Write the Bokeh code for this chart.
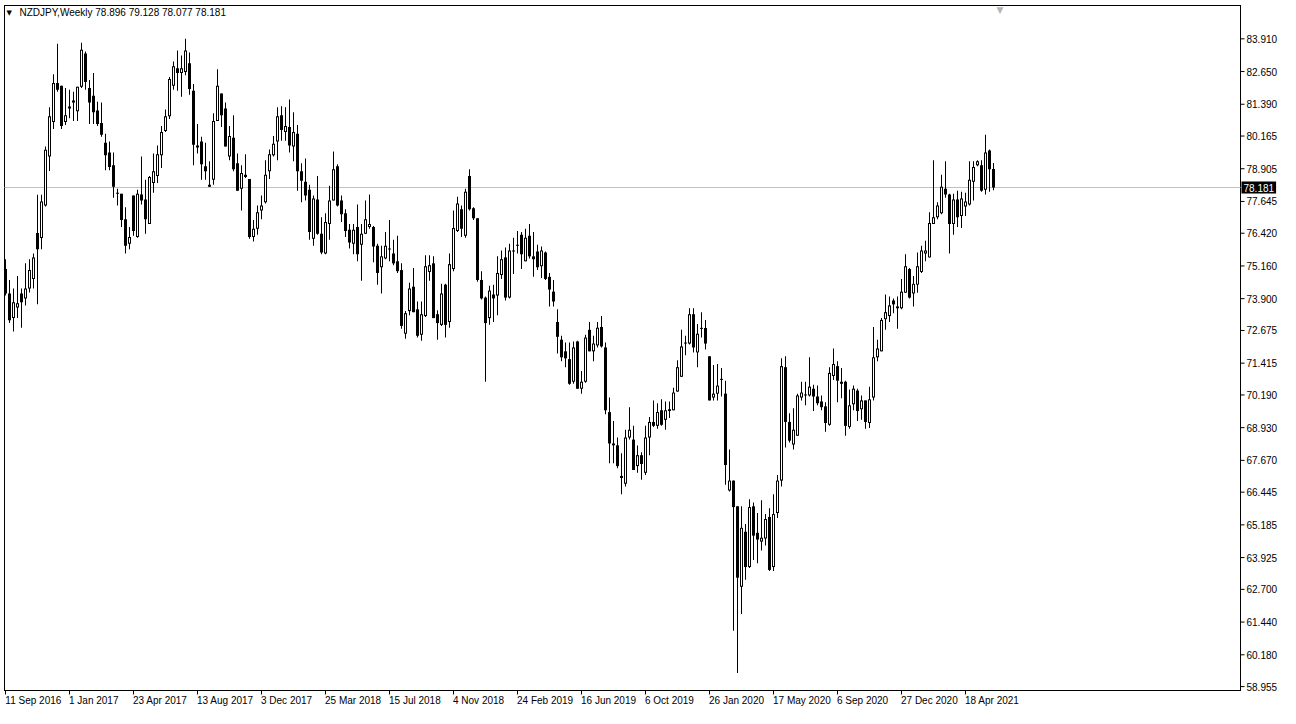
from bokeh.plotting import figure
from bokeh.models import (Range1d, FixedTicker, Label, PrintfTickFormatter)
from bokeh.embed import file_html
from bokeh.resources import INLINE

symbol = "NZDJPY"
timeframe = "Weekly"
last_ohlc = [78.896, 79.128, 78.077, 78.181]

opens = [
75.04,74.10,73.15,73.56,74.10,73.91,74.29,74.66,76.43,76.24,
77.49,79.38,80.71,82.21,82.10,80.71,81.23,81.46,81.12,82.06,
83.34,82.02,81.72,81.15,80.67,79.91,79.53,79.04,77.98,77.94,
76.96,76.02,77.87,76.28,77.91,77.72,76.78,78.36,78.63,79.42,
80.36,80.93,82.10,82.78,82.59,82.63,82.97,81.91,79.72,79.95,
79.00,78.21,78.48,80.74,81.80,81.23,79.38,80.10,79.12,78.13,
78.67,78.51,76.28,76.59,77.30,77.61,78.81,79.42,79.95,80.97,
80.32,80.51,79.76,80.25,78.81,78.40,78.10,76.21,77.72,76.40,
75.64,76.78,77.68,79.00,77.68,77.19,76.55,76.02,76.66,75.98,
76.40,76.66,76.66,75.94,75.11,75.45,75.83,75.64,75.34,75.00,
72.55,73.42,74.36,73.49,72.51,73.23,74.93,75.26,73.30,72.89,
74.44,73.00,75.04,76.51,77.34,76.32,78.63,77.38,77.00,74.62,
73.94,73.15,74.06,74.02,74.81,75.49,73.94,75.72,75.98,76.36,
75.34,76.32,75.53,75.72,75.15,75.68,74.74,74.17,73.00,72.32,
71.87,71.57,70.70,72.25,70.43,70.70,72.70,71.87,72.10,72.81,
72.02,69.53,68.25,68.25,67.07,66.77,68.55,68.47,67.45,67.87,
67.19,68.55,69.15,69.00,69.60,69.23,69.64,69.60,70.32,70.89,
72.21,72.17,73.30,71.83,72.77,72.77,71.68,70.09,70.24,70.81,
70.24,66.51,66.89,65.90,62.80,64.92,63.56,65.90,64.88,64.54,
64.66,65.49,63.56,65.64,66.89,71.26,69.15,68.28,68.62,70.09,
70.21,70.17,70.43,70.13,69.94,69.75,69.04,70.92,71.30,70.70,
70.70,68.96,69.83,70.36,69.64,69.98,69.11,70.09,71.64,71.87,
73.11,73.23,73.83,73.60,73.53,74.13,75.04,74.10,74.44,74.93,
75.64,75.49,76.78,77.04,77.19,78.13,77.91,76.78,77.72,77.08,
77.45,77.53,78.40,79.04,79.04,78.10,79.61,78.896]

highs = [
75.42,74.62,74.29,74.77,74.29,75.26,75.42,75.64,77.90,77.90,
79.76,81.27,82.55,83.72,82.10,82.02,81.95,81.87,82.06,83.76,
83.42,82.32,82.59,81.49,81.46,80.25,79.95,79.53,78.13,77.94,
77.42,76.66,77.87,78.10,79.38,78.48,78.63,79.49,79.80,80.55,
81.19,82.44,83.04,83.46,83.27,83.91,83.38,82.17,80.63,80.14,
79.91,79.19,81.04,82.74,81.80,81.46,80.55,80.97,79.49,79.04,
79.46,78.51,76.93,77.49,77.87,79.23,79.65,80.17,81.27,81.31,
81.27,81.57,81.08,80.59,79.12,79.30,78.29,77.87,78.63,77.04,
77.19,78.25,79.57,79.08,77.87,77.34,76.78,76.78,77.53,76.78,
77.68,77.91,76.70,76.02,75.94,76.47,76.93,76.17,76.32,75.26,
73.42,74.51,75.08,73.79,73.79,75.57,75.57,75.53,73.45,74.47,
74.47,75.64,77.30,77.83,77.49,78.13,78.89,77.42,77.00,74.96,
73.98,74.40,74.44,75.53,75.76,75.87,76.02,76.25,76.51,76.47,
76.59,76.78,76.47,75.98,75.91,75.72,74.89,74.62,73.49,72.47,
72.21,72.21,72.25,72.28,71.11,72.51,73.00,72.47,73.00,73.23,
72.21,70.09,69.19,68.55,67.94,68.85,69.72,69.00,68.24,67.98,
69.00,69.34,69.98,69.87,70.02,69.94,69.94,70.47,71.53,72.70,
72.47,73.53,73.53,72.92,73.38,73.08,71.68,71.34,71.38,71.23,
70.74,68.09,66.89,65.90,65.90,65.22,66.17,66.05,65.64,66.13,
65.60,65.83,66.36,67.11,71.60,71.68,69.49,69.68,70.24,70.70,
70.70,71.64,70.58,70.55,70.17,69.91,71.26,71.98,71.49,71.23,
70.74,70.40,70.55,70.43,70.17,69.98,70.51,72.81,72.32,73.15,
74.06,73.98,73.91,73.98,74.66,75.61,75.08,74.77,75.68,75.94,
76.13,77.23,79.23,77.61,78.67,79.19,77.94,77.94,78.06,78.02,
77.98,79.19,79.19,79.23,79.23,80.21,79.65,79.128]

lows = [
74.02,72.96,72.63,73.15,72.78,73.64,74.14,74.29,73.68,75.80,
77.45,78.82,80.44,81.87,80.44,80.59,80.85,80.74,80.74,82.02,
81.95,80.63,80.63,80.55,80.14,78.85,78.85,77.79,77.49,76.66,
75.64,75.80,76.32,76.25,77.53,76.40,76.78,77.98,78.36,78.93,
80.32,80.82,81.95,81.91,81.68,82.51,81.76,79.04,79.49,78.48,
78.48,78.21,78.29,80.74,80.51,79.76,79.23,78.81,78.06,77.30,
78.55,76.21,76.10,76.36,76.96,77.57,78.51,79.38,79.23,79.98,
79.98,79.53,79.19,78.06,77.61,77.68,76.17,75.94,76.36,75.61,
75.61,76.17,77.68,77.45,76.85,76.28,75.83,75.61,75.34,74.59,
76.40,76.59,75.30,74.44,74.10,75.42,75.34,75.19,74.89,72.74,
72.36,73.26,73.38,72.40,72.28,73.19,74.59,73.15,72.32,72.85,
72.40,72.78,74.96,76.47,76.28,76.25,77.30,76.93,74.55,73.87,
70.70,72.89,73.00,73.26,74.66,73.83,73.91,74.85,75.64,75.04,
75.34,75.45,74.74,75.00,74.70,74.62,73.60,73.60,71.79,71.49,
71.26,70.58,70.62,70.43,70.24,70.66,71.87,71.49,72.02,72.02,
69.45,67.56,67.56,67.37,66.36,66.66,68.47,67.30,67.19,66.92,
67.11,67.87,68.96,68.89,69.00,68.85,69.30,69.60,70.32,70.89,
71.72,72.13,71.83,71.26,72.40,71.94,69.98,69.98,69.98,70.13,
66.73,66.47,61.11,59.48,61.75,63.07,63.52,63.83,63.71,64.20,
64.39,63.41,63.41,65.45,66.66,68.17,68.36,68.09,68.62,69.98,
69.79,70.13,69.57,69.79,69.60,68.77,69.00,70.77,69.91,70.06,
68.62,68.89,69.60,69.19,69.23,68.89,68.92,69.98,71.49,71.87,
72.70,73.00,73.34,72.74,73.49,74.13,73.91,73.60,74.13,74.89,
75.34,75.49,76.78,76.96,77.15,77.79,75.64,76.36,76.66,76.62,
77.08,77.49,77.68,79.00,78.02,77.91,78.02,78.077]

closes = [
74.10,73.07,73.76,73.72,73.76,74.29,75.00,75.49,75.80,77.64,
79.64,80.93,82.21,81.95,80.55,80.97,81.30,81.53,82.06,83.49,
82.25,81.46,81.08,80.63,80.21,79.42,78.97,78.21,77.94,76.93,
75.94,76.28,76.51,77.94,77.68,76.96,78.59,78.81,79.46,80.32,
80.93,82.36,82.85,82.59,82.78,83.46,81.98,79.83,79.80,79.08,
78.81,78.29,80.74,82.10,80.97,79.76,80.17,78.89,78.06,78.74,
78.59,76.28,76.59,77.23,77.49,78.67,79.46,79.87,80.93,80.40,
80.55,79.80,80.32,78.81,78.44,77.87,76.47,77.76,76.40,75.68,
76.85,77.68,78.89,77.49,77.15,76.51,76.06,76.55,75.61,76.40,
76.96,76.78,75.91,74.89,75.53,75.94,75.79,75.26,74.96,72.85,
73.34,74.29,73.38,72.47,73.30,75.15,75.19,73.15,72.96,74.10,
72.89,75.23,76.62,77.57,76.59,78.02,77.34,77.00,74.62,73.91,
72.96,74.21,73.91,74.89,75.42,73.94,75.76,75.76,75.94,75.61,
76.25,75.53,75.42,75.11,75.76,74.66,74.25,73.79,72.43,71.64,
71.60,70.62,72.02,70.43,70.70,72.40,71.87,72.17,72.78,72.06,
69.60,68.32,68.32,67.45,66.99,68.55,68.85,67.30,67.87,67.53,
68.55,69.15,69.00,69.53,69.04,69.60,69.57,70.28,71.26,72.06,
72.17,73.30,72.02,72.55,72.74,72.17,69.98,70.24,70.55,70.77,
67.49,66.89,65.87,63.15,65.07,63.56,65.87,64.77,64.62,64.69,
65.41,63.45,65.60,66.89,71.30,69.15,68.43,68.85,70.17,70.28,
70.17,70.51,70.13,69.87,69.72,69.11,71.04,71.38,70.74,70.62,
69.00,69.79,70.43,69.57,69.98,69.15,70.02,71.64,71.98,73.08,
73.38,73.64,73.68,73.53,74.17,75.15,73.94,74.47,75.15,75.76,
75.76,76.81,77.04,77.49,78.21,77.91,76.78,77.72,77.04,77.76,
77.64,78.48,78.97,79.19,78.06,79.53,78.89,78.181]

date_labels = ["11 Sep 2016", "1 Jan 2017", "23 Apr 2017", "13 Aug 2017", "3 Dec 2017",
               "25 Mar 2018", "15 Jul 2018", "4 Nov 2018", "24 Feb 2019", "16 Jun 2019",
               "6 Oct 2019", "26 Jan 2020", "17 May 2020", "6 Sep 2020", "27 Dec 2020",
               "18 Apr 2021"]
label_every = 16

price_levels = [83.910, 82.650, 81.390, 80.165, 78.905, 77.645, 76.420, 75.160, 73.900,
                72.675, 71.415, 70.190, 68.930, 67.670, 66.445, 65.185, 63.925, 62.700,
                61.440, 60.180, 58.955]

# ---------------- layout / style ----------------
FONT = "Liberation Sans"
FS = 10                          # px
W, H = 1280, 708
BL, BT = 3, 4                    # canvas borders
FW, FH = W - BL, H - BT          # frame: chart + price strip + time strip
PXB = 4.0                        # pixels per bar
dx = 1.0 / PXB
X0 = -0.5
CHART_R = 1237                   # chart right border, frame px
CHART_B = 686                    # chart bottom border, frame px
P_TOP, P_BOT = 85.194, 58.804    # prices at the chart's top / bottom border
ppp = (CHART_B - 1) / (P_TOP - P_BOT)
dy = 1.0 / ppp
Y1 = P_TOP + 1 * dy
Y0 = Y1 - FH * dy

x_left = X0 + 1 * dx
x_border = X0 + CHART_R * dx
y_top = Y1 - 1 * dy
y_bot = Y1 - CHART_B * dy

n = len(opens)
idx = list(range(n))
bull = [c >= o for o, c in zip(opens, closes)]

btop, bbot = [], []
for o, c in zip(opens, closes):
    t, b = max(o, c), min(o, c)
    if t - b < dy:
        m = (t + b) / 2
        t, b = m + dy / 2, m - dy / 2
    btop.append(t)
    bbot.append(b)

inner_x, inner_t, inner_b = [], [], []
for i in idx:
    if bull[i] and btop[i] - bbot[i] > 2.5 * dy:
        inner_x.append(i)
        inner_t.append(btop[i] - dy)
        inner_b.append(bbot[i] + dy)

p = figure(width=W, height=H, output_backend="svg", toolbar_location=None,
           x_range=Range1d(X0, X0 + FW * dx), y_range=Range1d(Y0, Y1),
           y_axis_location="right", x_axis_location="below",
           min_border_left=BL, min_border_top=BT, min_border_right=0, min_border_bottom=0)
p.background_fill_color = "white"
p.border_fill_color = "white"
p.outline_line_color = None
p.grid.visible = False

# chart box (four 1-px strips, pixel aligned)
hx, hy = 0.5 * dx, 0.5 * dy
p.quad(left=[x_left - hx, x_border - hx, x_left - hx, x_left - hx],
       right=[x_left + hx, x_border + hx, x_border + hx, x_border + hx],
       top=[y_top + hy, y_top + hy, y_top + hy, y_bot + hy],
       bottom=[y_bot - hy, y_bot - hy, y_top - hy, y_bot - hy],
       fill_color="black", line_color=None)

# current price line (chart area only)
p.quad(left=[x_left], right=[x_border], top=[last_ohlc[3] + hy], bottom=[last_ohlc[3] - hy],
       fill_color="#c0c0c0", line_color=None)

# candles: wick, body, hollow inside of the up candles
p.vbar(x=idx, width=0.25, top=highs, bottom=lows, fill_color="black", line_color=None)
p.vbar(x=idx, width=0.75, top=btop, bottom=bbot, fill_color="black", line_color=None)
p.vbar(x=inner_x, width=0.25, top=inner_t, bottom=inner_b, fill_color="white", line_color=None)

# price scale: tick marks + labels at the chart border
p.segment(x0=[x_border] * len(price_levels), y0=price_levels,
          x1=[x_border + 4 * dx] * len(price_levels), y1=price_levels,
          line_color="black", line_width=1)
ya = p.yaxis[0]
ya.fixed_location = x_border
ya.ticker = FixedTicker(ticks=price_levels)
ya.formatter = PrintfTickFormatter(format="%.3f")
ya.major_tick_in = 0
ya.major_tick_out = 0
ya.major_tick_line_color = None
ya.minor_tick_line_color = None
ya.axis_line_color = None
ya.major_label_standoff = 6
ya.major_label_text_font = FONT
ya.major_label_text_font_size = f"{FS}px"
ya.major_label_text_color = "black"

# time scale: tick marks at the labelled bars, dates written from the tick rightwards
tick_bars = [i * label_every for i in range(len(date_labels))]
p.vbar(x=tick_bars, width=dx, top=[y_bot] * len(tick_bars),
       bottom=[y_bot - 4 * dy] * len(tick_bars), fill_color="black", line_color=None)

ARIAL_W = {"0": 556, "1": 556, "2": 556, "3": 556, "4": 556, "5": 556, "6": 556, "7": 556,
           "8": 556, "9": 556, " ": 278, "S": 667, "J": 500, "A": 667, "M": 833, "N": 722,
           "O": 778, "D": 722, "F": 611, "e": 556, "p": 556, "a": 556, "n": 556, "r": 333,
           "u": 556, "g": 556, "c": 500, "o": 556, "v": 500, "l": 222, "y": 500, "b": 556,
           "t": 278}
def text_w(s):
    return sum(ARIAL_W.get(ch, 556) for ch in s) * FS / 1000.0

label_pos = [round(t + (text_w(lab) / 2 - 0.5) * dx, 4) for t, lab in zip(tick_bars, date_labels)]
xa = p.xaxis[0]
xa.fixed_location = y_bot
xa.ticker = FixedTicker(ticks=label_pos)
xa.major_label_overrides = {pos: lab for pos, lab in zip(label_pos, date_labels)}
xa.major_tick_in = 0
xa.major_tick_out = 0
xa.major_tick_line_color = None
xa.minor_tick_line_color = None
xa.axis_line_color = None
xa.major_label_standoff = 4
xa.major_label_text_font = FONT
xa.major_label_text_font_size = f"{FS}px"
xa.major_label_text_color = "black"

# header
p.add_layout(Label(x=3, y=Y1 - 8 * dy, x_units="screen", y_units="data", text="\u25BC",
                   text_font="DejaVu Sans", text_font_size="7px", text_color="black",
                   text_baseline="middle"))
p.add_layout(Label(x=16, y=Y1 - 8 * dy, x_units="screen", y_units="data",
                   text=f"{symbol},{timeframe}  " + " ".join(f"{v:.3f}" for v in last_ohlc),
                   text_font=FONT, text_font_size=f"{FS}px", text_color="black",
                   text_baseline="middle"))

# chart-shift marker at the top edge
p.add_layout(Label(x=n + 0.6, y=Y1, x_units="data", y_units="data", text="\u25BC",
                   text_font="DejaVu Sans", text_font_size="9px", text_color="#b4b4b4",
                   text_baseline="top", text_align="center"))

# current price tag on the price scale
p.add_layout(Label(x=x_border, y=last_ohlc[3], x_units="data", y_units="data", x_offset=1,
                   text=f"{last_ohlc[3]:.3f}", text_font=FONT, text_font_size=f"{FS}px",
                   text_color="white", background_fill_color="black",
                   text_baseline="middle", text_align="left", padding=2))

open("out.html", "w").write(file_html(p, INLINE))
